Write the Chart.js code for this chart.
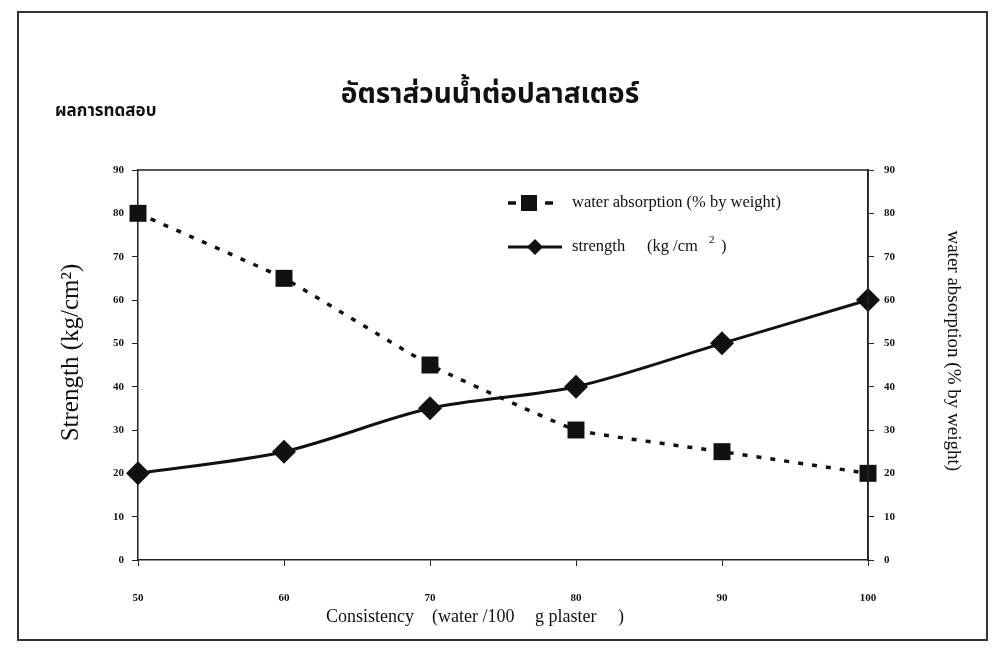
<!DOCTYPE html>
<html>
<head>
<meta charset="utf-8">
<script src="https://cdn.jsdelivr.net/npm/chart.js@4.4.1/dist/chart.umd.min.js"></script>
<style>
  html, body { margin: 0; padding: 0; background: #fff; }
  #wrap { width: 995px; height: 662px; }
</style>
</head>
<body>
<div id="wrap"><canvas id="chart" width="995" height="662"></canvas></div>
<script>
const consistency = ['50', '60', '70', '80', '90', '100'];
const strength = [20, 25, 35, 40, 50, 60];
const waterAbsorption = [80, 65, 45, 30, 25, 20];

const serif = '"Liberation Serif", "DejaVu Serif", serif';
const thai = '"Noto Sans Thai", "Loma", "Garuda", "Norasi", "DejaVu Sans", sans-serif';

// frame, titles, top/right box, x title and the in-plot legend
const decor = {
  id: 'decor',
  afterDraw(chart) {
    const { ctx, chartArea: a } = chart;
    ctx.save();
    ctx.strokeStyle = '#333';
    ctx.lineWidth = 2;
    ctx.strokeRect(18, 12, 969, 628);

    ctx.lineWidth = 1.5;
    ctx.strokeStyle = '#222';
    ctx.beginPath();
    ctx.moveTo(a.left, a.top);
    ctx.lineTo(a.right, a.top);
    ctx.lineTo(a.right, a.bottom);
    ctx.stroke();

    ctx.fillStyle = '#111';
    ctx.textAlign = 'center';
    ctx.textBaseline = 'middle';
    ctx.font = 'bold 28px ' + thai;
    ctx.fillText('อัตราส่วนน้ำต่อปลาสเตอร์', 490, 97);
    ctx.textAlign = 'left';
    ctx.font = 'bold 17px ' + thai;
    ctx.fillText('ผลการทดสอบ', 55, 113);

    // x axis title
    ctx.font = '18px ' + serif;
    ctx.fillText('Consistency', 326, 617);
    ctx.fillText('(water /100', 432, 617);
    ctx.fillText('g plaster', 535, 617);
    ctx.fillText(')', 618, 617);

    // legend
    ctx.font = '16.5px ' + serif;
    ctx.strokeStyle = '#111';
    ctx.lineWidth = 3.5;
    ctx.beginPath();
    ctx.moveTo(508, 203); ctx.lineTo(516, 203);
    ctx.moveTo(545, 203); ctx.lineTo(553, 203);
    ctx.stroke();
    ctx.fillRect(521, 195, 16, 16);
    ctx.fillText('water absorption (% by weight)', 572, 203);

    ctx.lineWidth = 3;
    ctx.beginPath();
    ctx.moveTo(508, 247); ctx.lineTo(562, 247);
    ctx.stroke();
    ctx.beginPath();
    ctx.moveTo(535, 239); ctx.lineTo(543, 247); ctx.lineTo(535, 255); ctx.lineTo(527, 247);
    ctx.closePath();
    ctx.fill();
    ctx.fillText('strength', 572, 247);
    ctx.fillText('(kg /cm', 647, 247);
    ctx.font = '11px ' + serif;
    ctx.fillText('2', 709, 240);
    ctx.font = '16.5px ' + serif;
    ctx.fillText(')', 721, 247);
    ctx.restore();
  }
};

const tickFont = { family: serif, size: 11, weight: 'bold' };

new Chart(document.getElementById('chart'), {
  type: 'line',
  data: {
    labels: consistency,
    datasets: [
      {
        label: 'water absorption (% by weight)',
        data: waterAbsorption,
        yAxisID: 'y1',
        borderColor: '#111',
        backgroundColor: '#111',
        borderWidth: 3.5,
        borderDash: [5, 9],
        tension: 0.1,
        pointStyle: 'rect',
        pointRadius: 12,
        pointBorderWidth: 0
      },
      {
        label: 'strength (kg/cm2)',
        data: strength,
        yAxisID: 'y',
        borderColor: '#111',
        backgroundColor: '#111',
        borderWidth: 3,
        tension: 0.3,
        pointStyle: 'rectRot',
        pointRadius: 12,
        pointBorderWidth: 0
      }
    ]
  },
  options: {
    responsive: false,
    animation: false,
    layout: { padding: { left: 52, top: 170, right: 27, bottom: 32 } },
    plugins: {
      legend: { display: false },
      tooltip: { enabled: false }
    },
    scales: {
      x: {
        offset: false,
        afterFit: s => { s.height = 70; },
        grid: { drawOnChartArea: false, tickLength: 6, color: '#222' },
        border: { color: '#222', width: 1.5 },
        ticks: { color: '#111', font: tickFont, padding: 26, maxRotation: 0 },
        title: { display: false }
      },
      y: {
        position: 'left',
        min: 0, max: 90,
        afterFit: s => { s.width = 86; },
        grid: { drawOnChartArea: false, tickLength: 6, color: '#222' },
        border: { color: '#222', width: 1.5 },
        ticks: { stepSize: 10, color: '#111', font: tickFont, padding: 8 },
        title: {
          display: true,
          text: '    Strength (kg/cm²)',
          color: '#111',
          font: { family: serif, size: 25 },
          padding: 4
        }
      },
      y1: {
        position: 'right',
        min: 0, max: 90,
        afterFit: s => { s.width = 100; },
        grid: { drawOnChartArea: false, tickLength: 6, color: '#222' },
        border: { color: '#222', width: 1.5 },
        ticks: { stepSize: 10, color: '#111', font: tickFont, padding: 10 },
        title: {
          display: true,
          text: 'water absorption (% by weight)      ',
          color: '#111',
          font: { family: serif, size: 19 },
          padding: 4
        }
      }
    }
  },
  plugins: [decor]
});
</script>
</body>
</html>
